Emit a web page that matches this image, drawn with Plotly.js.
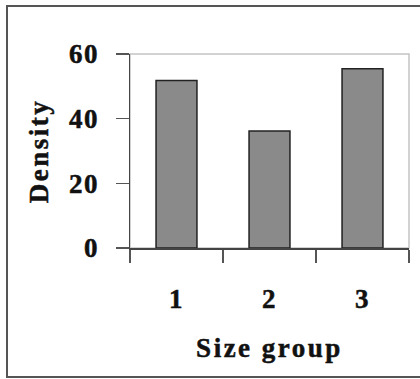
<!DOCTYPE html>
<html>
<head>
<meta charset="utf-8">
<script src="https://cdn.plot.ly/plotly-3.0.1.min.js"></script>
<style>
html,body{margin:0;padding:0;background:#fff;}
#chart{width:420px;height:379px;}
.g-xtitle text,.g-ytitle text{letter-spacing:2.5px;stroke:#111111;stroke-width:0.5px;}
.xtick text,.ytick text{letter-spacing:1.5px;stroke:#111111;stroke-width:0.5px;}
</style>
</head>
<body>
<div id="chart"></div>
<script>
const categories = ["1", "2", "3"];
const densityValues = [51.8, 36.2, 55.4];
const yTickValues = [0, 20, 40, 60];
const xTitle = "Size group";
const yTitle = "Density";

const W = 420, H = 379;
const L = 130, R = 11, T = 54, B = 131;
const pw = W - L - R, ph = H - T - B;
function px2x(p){ return (p - L) / pw; }
function py2y(p){ return (H - B - p) / ph; }

const font = "'Liberation Serif', 'Times New Roman', serif";

const trace = {
  type: "bar",
  x: categories,
  y: densityValues,
  marker: {color: "#8a8a8a", line: {color: "#222222", width: 1.5}},
  hoverinfo: "none"
};

const layout = {
  width: W, height: H,
  margin: {l: L, r: R, t: T, b: B, pad: 0},
  paper_bgcolor: "#ffffff",
  plot_bgcolor: "#ffffff",
  showlegend: false,
  bargap: 0.56,
  font: {family: font, color: "#222222"},
  xaxis: {
    type: "category",
    tickson: "boundaries",
    ticks: "outside",
    ticklen: 13,
    tickwidth: 1.5,
    tickcolor: "#555555",
    showline: true,
    linecolor: "#444444",
    linewidth: 1.5,
    showgrid: false,
    zeroline: false,
    tickfont: {family: font, size: 27, weight: "bold", color: "#111111"},
    ticklabelstandoff: 26,
    title: {text: xTitle, font: {family: font, size: 27, weight: "bold", color: "#111111"}, standoff: 25}
  },
  yaxis: {
    range: [0, 60],
    tickvals: yTickValues,
    ticktext: yTickValues.map(String),
    ticks: "outside",
    ticklen: 13,
    tickwidth: 1.5,
    tickcolor: "#555555",
    showline: true,
    linecolor: "#444444",
    linewidth: 1.5,
    showgrid: false,
    zeroline: false,
    tickfont: {family: font, size: 27, weight: "bold", color: "#111111"},
    ticklabelstandoff: 11,
    title: {text: yTitle, font: {family: font, size: 27, weight: "bold", color: "#111111"}, standoff: 12}
  },
  shapes: [
    {type: "rect", xref: "paper", yref: "paper", x0: 0, x1: 1, y0: 0, y1: 1,
     line: {color: "#c4c4c4", width: 1.5}, layer: "below"},
    {type: "rect", xref: "paper", yref: "paper",
     x0: px2x(7), x1: px2x(430), y0: py2y(377), y1: py2y(6),
     line: {color: "#555555", width: 2}, layer: "below"}
  ]
};

Plotly.newPlot("chart", [trace], layout, {displayModeBar: false, staticPlot: true});
</script>
</body>
</html>
